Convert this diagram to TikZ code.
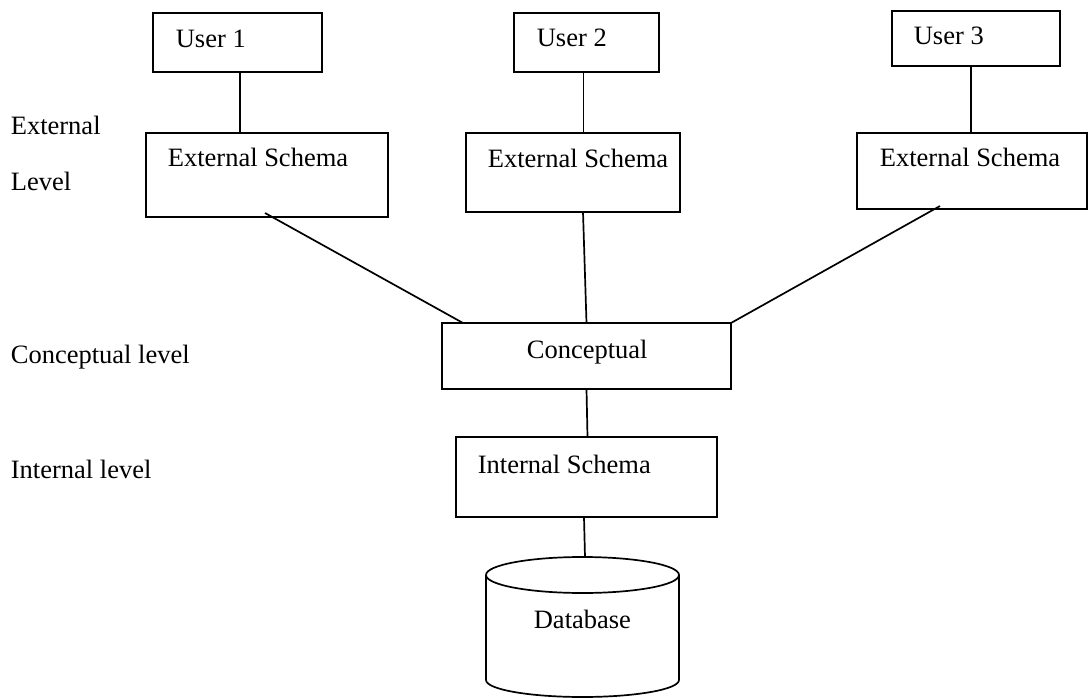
\documentclass[tikz,border=0pt]{standalone}
\usepackage{fontspec}
\setmainfont{Liberation Serif}
\usetikzlibrary{calc}
\begin{document}
\begin{tikzpicture}[x=1pt,y=-1pt,
  line width=1.7pt,
  txt/.style={anchor=base west,inner sep=0pt,font=\fontsize{26.5}{32}\selectfont},
  box/.style={draw,anchor=north west,inner sep=0pt,outer sep=0pt}]
\useasboundingbox (0,0) rectangle (1088,698);

% users
\node[box,minimum width=169pt,minimum height=59pt] (u1) at (153,13) {};
\node[box,minimum width=145pt,minimum height=59pt] (u2) at (514,13) {};
\node[box,minimum width=168pt,minimum height=55pt] (u3) at (892,11) {};
\node[txt] (tu1) at (175,48) {User 1};
\node[txt] (tu2) at (536,47) {User 2};
\node[txt] (tu3) at (913,45) {User 3};

% external schemas
\node[box,minimum width=242pt,minimum height=84pt] (e1) at (146,133) {};
\node[box,minimum width=214pt,minimum height=79pt] (e2) at (466,133) {};
\node[box,minimum width=230pt,minimum height=76pt] (e3) at (857,133) {};
\node[txt] (te1) at (167,167) {External Schema};
\node[txt] (te2) at (487,168) {External Schema};
\node[txt] (te3) at (879,167) {External Schema};

% conceptual and internal
\node[box,minimum width=289pt,minimum height=66pt] (c) at (442,323) {};
\node[txt] (tc) at (526,358) {Conceptual};
\node[box,minimum width=261pt,minimum height=80pt] (i) at (456,437) {};
\node[txt] (ti) at (477,473) {Internal Schema};

% database cylinder
\coordinate (db) at (585,557);
\draw (582.5,575) ellipse [x radius=96.5pt, y radius=18pt];
\draw (486,575) -- (486,680) arc[start angle=180,end angle=360,x radius=96.5pt,y radius=17pt] -- (679,575);
\node[txt] (tdb) at (533,628) {Database};

% level labels
\node[txt] (l1) at (10,135) {External};
\node[txt] (l2) at (10,190) {Level};
\node[txt] (l3) at (10,363) {Conceptual level};
\node[txt] (l4) at (10,478) {Internal level};

% connectors
\draw ($(u1.south)+(2.5,0)$) -- ($(u1.south |- e1.north)+(2.5,0)$);
\draw ($(u2.south)+(-3,0)$) -- ($(u2.south |- e2.north)+(-3,0)$);
\draw ($(u3.south)+(-5,0)$) -- ($(u3.south |- e3.north)+(-5,0)$);
\draw ($(e1.south)+(-2,-4)$) -- ($(c.north west)+(21,0)$);
\draw ($(e2.south)+(10,0)$) -- (c.north);
\draw ($(e3.south)+(-32,-3)$) -- (c.north east);
\draw (c.south) -- ($(i.north)+(1,0)$);
\draw ($(i.south)+(-2.5,0)$) -- (db);
\end{tikzpicture}
\end{document}
